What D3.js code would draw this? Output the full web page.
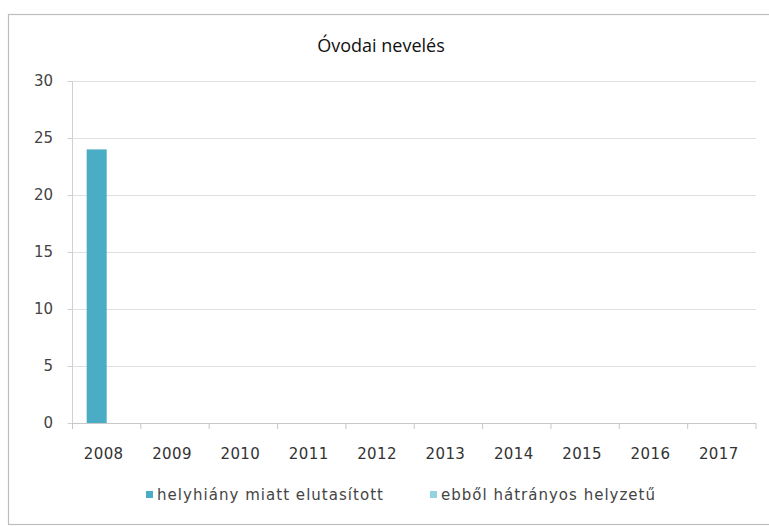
<!DOCTYPE html>
<html><head><meta charset="utf-8">
<script src="https://cdn.jsdelivr.net/npm/d3@7/dist/d3.min.js"></script>
<style>body{margin:0;background:#fff}svg{display:block}</style>
</head><body><svg id="c" width="769" height="526"></svg>
<script>
const years = ["2008","2009","2010","2011","2012","2013","2014","2015","2016","2017"];
const seriesNames = ["helyhiány miatt elutasított","ebből hátrányos helyzetű"];
const rejected = [24,0,0,0,0,0,0,0,0,0];
const disadvantaged = [0,0,0,0,0,0,0,0,0,0];
const yTicks = [0,5,10,15,20,25,30];
const colors = ["#4bacc6","#93d3e2"];

const svg = d3.select("#c");
// frame
svg.append("rect").attr("x",8.5).attr("y",14.5).attr("width",780).attr("height",510)
  .attr("fill","#fff").attr("stroke","#bdbdbd").attr("stroke-width",1.2);

const m = {l:72.5, r:756, t:81, b:423};
const x = d3.scaleBand().domain(years).range([m.l, m.r]);
const y = d3.scaleLinear().domain([0,30]).range([m.b, m.t]);

// gridlines
svg.append("g").selectAll("line").data(yTicks.filter(d=>d>0)).join("line")
  .attr("x1",m.l).attr("x2",m.r).attr("y1",d=>Math.round(y(d))+0.5).attr("y2",d=>Math.round(y(d))+0.5)
  .attr("stroke","#e0e0e0").attr("stroke-width",1);

// y axis line
svg.append("line").attr("x1",m.l).attr("x2",m.l).attr("y1",m.t).attr("y2",m.b).attr("stroke","#d0d0d0");

// y labels
svg.append("g").selectAll("text").data(yTicks).join("text")
  .attr("x",53).attr("y",d=>y(d)).attr("dy","0.35em").attr("text-anchor","end")
  .attr("font-family","DejaVu Sans").attr("font-size",15).attr("fill","#444").text(d=>d);
// y tick marks
svg.append("g").selectAll("line").data(yTicks).join("line")
  .attr("x1",m.l-5).attr("x2",m.l).attr("y1",d=>Math.round(y(d))+0.5).attr("y2",d=>Math.round(y(d))+0.5)
  .attr("stroke","#d0d0d0");

// bars
const bw = 20;
const data = [rejected, disadvantaged];
data.forEach((vals,si)=>{
  svg.append("g").selectAll("rect").data(years).join("rect")
    .attr("x",d=>x(d)+x.bandwidth()/2 - bw + si*bw)
    .attr("width",bw)
    .attr("y",(d,i)=>y(vals[i]))
    .attr("height",(d,i)=>y(0)-y(vals[i]))
    .attr("fill",colors[si]);
});

// x axis baseline
svg.append("line").attr("x1",m.l).attr("x2",m.r).attr("y1",m.b+0.5).attr("y2",m.b+0.5).attr("stroke","#c8c8c8");
// x tick marks at band boundaries
const bounds = years.map(d=>x(d)).concat([m.r]);
svg.append("g").selectAll("line").data(bounds).join("line")
  .attr("x1",d=>d).attr("x2",d=>d).attr("y1",m.b).attr("y2",m.b+6).attr("stroke","#c8c8c8");

// x labels
svg.append("g").selectAll("text").data(years).join("text")
  .attr("x",d=>x(d)+x.bandwidth()/2-3).attr("y",459).attr("text-anchor","middle")
  .attr("font-family","DejaVu Sans").attr("font-size",15).attr("fill","#333")
  .attr("letter-spacing",0.4).text(d=>d);

// title
svg.append("text").attr("x",381).attr("y",52).attr("text-anchor","middle")
  .attr("font-family","Open Sans").attr("font-size",18).attr("fill","#111").text("Óvodai nevelés");

// legend
const leg = [{x:146, tx:157, w:226},{x:430, tx:441, w:214}];
seriesNames.forEach((n,i)=>{
  svg.append("rect").attr("x",leg[i].x).attr("y",491).attr("width",7).attr("height",7).attr("fill",colors[i]);
  svg.append("text").attr("x",leg[i].tx).attr("y",500).attr("font-family","DejaVu Sans")
    .attr("font-size",15).attr("fill","#444")
    .attr("textLength",leg[i].w).attr("lengthAdjust","spacing").text(n);
});
</script></body></html>
